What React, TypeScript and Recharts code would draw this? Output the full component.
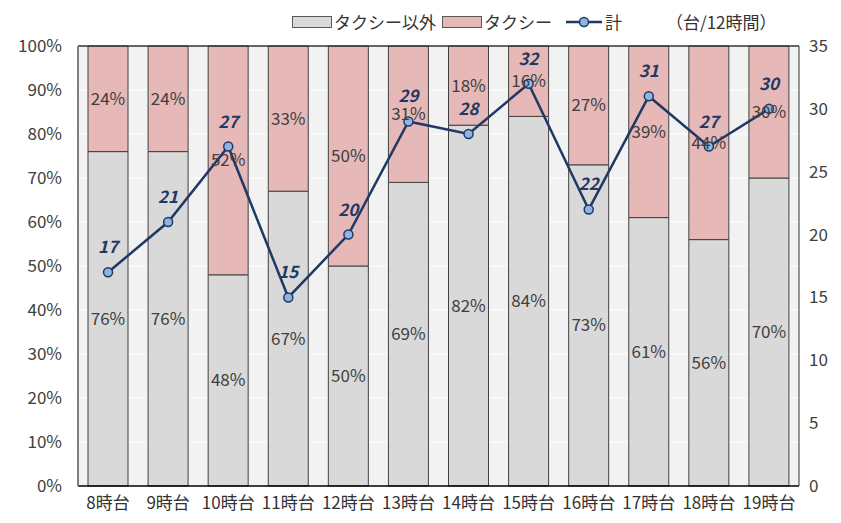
import React from 'react';
import {
  ComposedChart,
  Bar,
  Line,
  XAxis,
  YAxis,
  CartesianGrid,
  LabelList,
  ReferenceLine,
} from 'recharts';

const hours = ['8時台', '9時台', '10時台', '11時台', '12時台', '13時台', '14時台', '15時台', '16時台', '17時台', '18時台', '19時台'];
const nonTaxiPct = [76, 76, 48, 67, 50, 69, 82, 84, 73, 61, 56, 70];
const taxiPct = [24, 24, 52, 33, 50, 31, 18, 16, 27, 39, 44, 30];
const totals = [17, 21, 27, 15, 20, 29, 28, 32, 22, 31, 27, 30];
const leftTicks = [0, 10, 20, 30, 40, 50, 60, 70, 80, 90, 100];
const rightTicks = [0, 5, 10, 15, 20, 25, 30, 35];

const chartData = hours.map((h, i) => ({
  hour: h,
  nonTaxi: nonTaxiPct[i],
  taxi: taxiPct[i],
  total: totals[i],
}));

const FONT = '"Noto Sans CJK JP", "Noto Sans", sans-serif';
const NAVY = '#1f3864';

const ChartLegend = () => (
  <div style={{ position: 'absolute', left: 292, top: 9, display: 'flex', alignItems: 'center', fontSize: 17, color: '#333', fontFamily: FONT, whiteSpace: 'nowrap', zIndex: 2 }}>
    <span style={{ display: 'inline-block', width: 38, height: 10, background: '#d9d9d9', border: '1px solid #595959', marginRight: 2 }} />
    <span style={{ marginRight: 6 }}>タクシー以外</span>
    <span style={{ display: 'inline-block', width: 38, height: 10, background: '#e6b8b7', border: '1px solid #595959', marginRight: 2 }} />
    <span style={{ marginRight: 14 }}>タクシー</span>
    <svg width={36} height={12} style={{ marginRight: 3 }}>
      <line x1={0} y1={6} x2={36} y2={6} stroke={NAVY} strokeWidth={2.5} />
      <circle cx={18} cy={6} r={4.5} fill="#8db4e2" stroke={NAVY} strokeWidth={1.5} />
    </svg>
    <span style={{ marginRight: 44 }}>計</span>
    <span>（台/12時間）</span>
  </div>
);

export default function App() {
  return (
    <div style={{ position: 'absolute', left: 0, top: 0, width: 841, height: 523, background: '#fff', fontFamily: FONT }}>
      <ChartLegend />
      <ComposedChart
        width={841}
        height={523}
        data={chartData}
        margin={{ top: 46, right: 0, bottom: 0, left: 0 }}
        barSize={40}
      >
        <CartesianGrid yAxisId="left" vertical={false} stroke="#ffffff" strokeWidth={1} fill="#f2f2f2" />
        <XAxis
          dataKey="hour"
          height={37}
          tickLine={false}
          tickSize={0}
          tickMargin={11}
          axisLine={{ stroke: '#000', strokeWidth: 1.5 }}
          tick={{ fontSize: 17, fill: '#333', fontFamily: FONT }}
          interval={0}
        />
        <YAxis
          yAxisId="left"
          width={78}
          domain={[0, 100]}
          ticks={leftTicks}
          tickFormatter={(v: number) => v + '%'}
          tickLine={false}
          tickSize={0}
          tickMargin={16}
          axisLine={{ stroke: '#7f7f7f', strokeWidth: 2 }}
          tick={{ fontSize: 17, fill: '#404040', fontFamily: FONT }}
        />
        <YAxis
          yAxisId="right"
          orientation="right"
          width={42}
          domain={[0, 35]}
          ticks={rightTicks}
          tickLine={false}
          tickSize={0}
          tickMargin={10}
          axisLine={{ stroke: '#333', strokeWidth: 1 }}
          tick={{ fontSize: 17, fill: '#404040', fontFamily: FONT }}
        />
        <ReferenceLine yAxisId="left" y={100} stroke="#333" strokeWidth={1.5} />
        <Bar yAxisId="left" dataKey="nonTaxi" stackId="a" fill="#d9d9d9" stroke="#404040" strokeWidth={1} isAnimationActive={false}>
          <LabelList dataKey="nonTaxi" position="center" formatter={(v: number) => v + '%'} style={{ fontSize: 17, fill: '#404040', fontFamily: FONT }} />
        </Bar>
        <Bar yAxisId="left" dataKey="taxi" stackId="a" fill="#e6b8b7" stroke="#404040" strokeWidth={1} isAnimationActive={false}>
          <LabelList dataKey="taxi" position="center" formatter={(v: number) => v + '%'} style={{ fontSize: 17, fill: '#404040', fontFamily: FONT }} />
        </Bar>
        <Line
          yAxisId="right"
          dataKey="total"
          stroke={NAVY}
          strokeWidth={2.5}
          dot={{ r: 4.5, fill: '#8db4e2', stroke: NAVY, strokeWidth: 1.5 }}
          isAnimationActive={false}
        >
          <LabelList dataKey="total" position="top" offset={19} style={{ fontSize: 17, fill: NAVY, fontWeight: 'bold', fontStyle: 'italic', fontFamily: FONT }} />
        </Line>
      </ComposedChart>
    </div>
  );
}
